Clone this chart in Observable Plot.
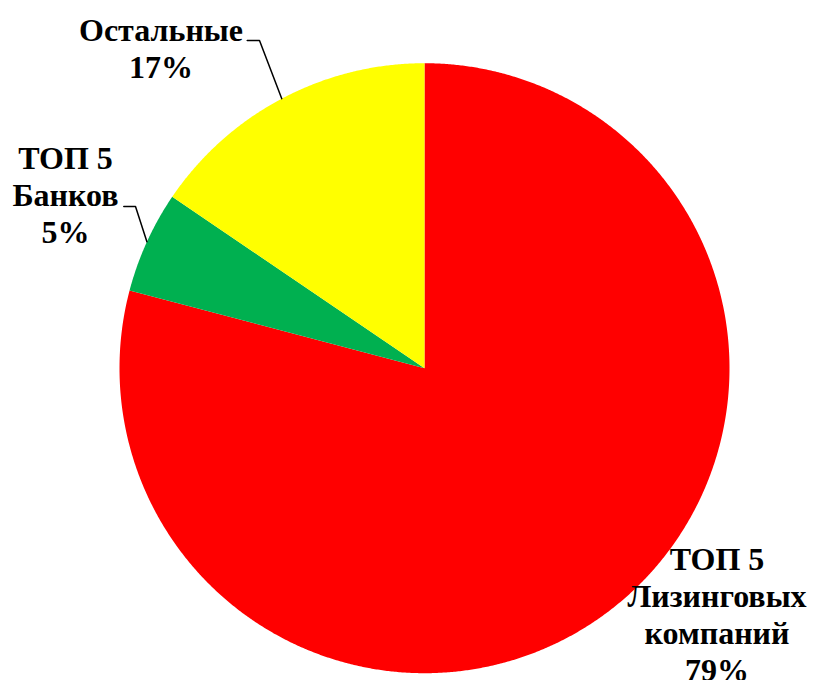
<!DOCTYPE html>
<html><head><meta charset="utf-8">
<script src="https://cdn.jsdelivr.net/npm/d3@7"></script>
<script src="https://cdn.jsdelivr.net/npm/@observablehq/plot@0.6"></script>
<style>
html,body{margin:0;padding:0;background:#fff;overflow:hidden}
#chart svg text{font-family:"Liberation Serif","Times New Roman",serif !important;font-weight:bold}
</style>
</head><body><div id="chart"></div>
<script>
// ---- data ----
const categories = ["ТОП 5 Лизинговых компаний", "ТОП 5 Банков", "Остальные"];
const values = [79.1, 5.4, 15.5];
const percentLabels = ["79%", "5%", "17%"];
const labelLines = [["ТОП 5", "Лизинговых", "компаний"], ["ТОП 5", "Банков"], ["Остальные"]];
const colors = ["#FF0000", "#00B050", "#FFFF00"];

// ---- layout (pixels) ----
const W = 813, H = 680, R = 305, CX = 424, CY = 367.7;
const labelPos = [{x: 716.5, y: 680}, {x: 65, y: 242}, {x: 160.5, y: 77}]; // last baseline
const leaderPos = [null, {elbow: [135, 206], end: [123.3, 206]}, {elbow: [259, 40], end: [246.7, 40]}];

const toX = px => px - CX;
const toY = py => CY - py;

const arcs = d3.pie().sort(null).value(d => d)(values);

const slicePts = [];
arcs.forEach((a, i) => {
  const cat = categories[i];
  slicePts.push({cat, x: 0, y: 0});
  const n = Math.max(2, Math.ceil((a.endAngle - a.startAngle) / 0.005));
  for (let k = 0; k <= n; k++) {
    const t = a.startAngle + (a.endAngle - a.startAngle) * k / n;
    slicePts.push({cat, x: R * Math.sin(t), y: R * Math.cos(t)});
  }
  slicePts.push({cat, x: 0, y: 0});
});

const labels = arcs.map((a, i) => ({
  cat: categories[i],
  text: [...labelLines[i], percentLabels[i]].join("\n"),
  x: toX(labelPos[i].x),
  y: toY(labelPos[i].y)
}));

const leaderPts = [];
arcs.forEach((a, i) => {
  const L = leaderPos[i];
  if (!L) return;
  const m = (a.startAngle + a.endAngle) / 2;
  leaderPts.push({cat: categories[i], x: R * Math.sin(m), y: R * Math.cos(m)});
  leaderPts.push({cat: categories[i], x: toX(L.elbow[0]), y: toY(L.elbow[1])});
  leaderPts.push({cat: categories[i], x: toX(L.end[0]), y: toY(L.end[1])});
});

const chart = Plot.plot({
  width: W, height: H, margin: 0,
  style: {background: "#fff", overflow: "visible", fontFamily: "Liberation Serif, serif"},
  x: {domain: [-CX, W - CX], axis: null},
  y: {domain: [CY - H, CY], axis: null},
  color: {domain: categories, range: colors},
  marks: [
    Plot.line(slicePts, {x: "x", y: "y", z: "cat", fill: "cat", stroke: "none", curve: "linear"}),
    Plot.line(leaderPts, {x: "x", y: "y", z: "cat", stroke: "black", strokeWidth: 1.5}),
    Plot.text(labels, {
      x: "x", y: "y", text: "text",
      textAnchor: "middle", lineAnchor: "bottom", lineHeight: 1.15,
      fontSize: 32, fontWeight: "bold", fontFamily: "Liberation Serif, serif",
      fill: "black"
    })
  ]
});
document.getElementById("chart").appendChild(chart);
</script>
</body></html>
